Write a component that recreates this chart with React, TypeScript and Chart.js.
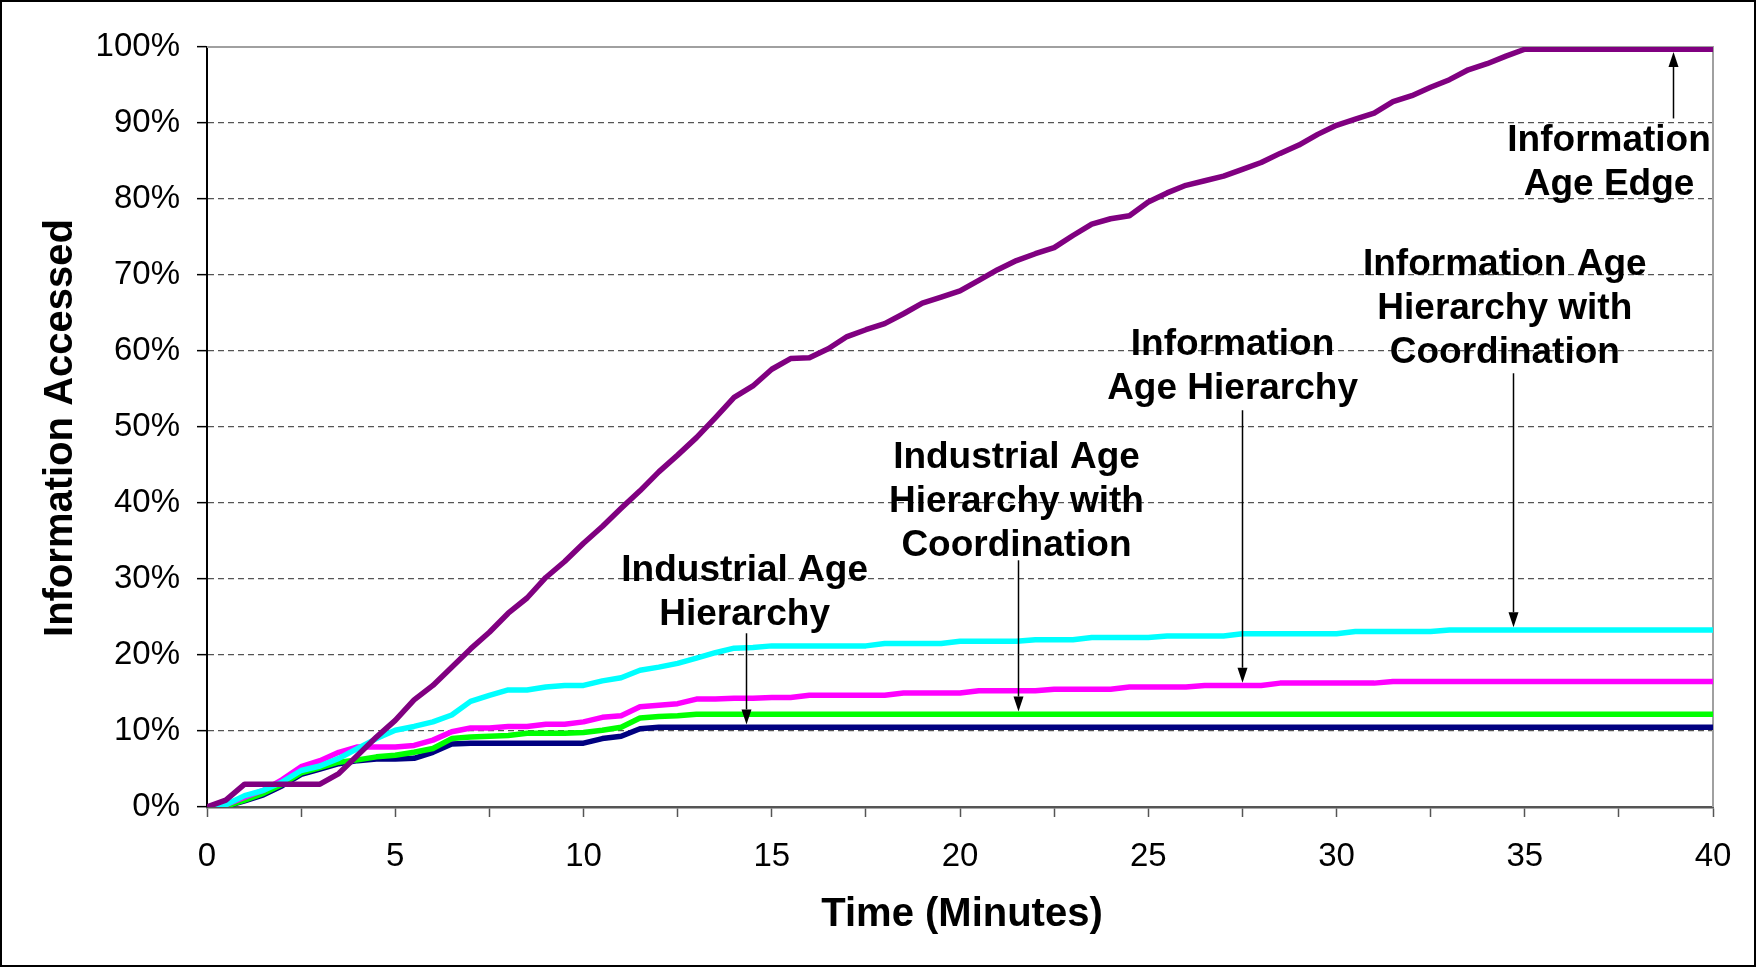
import React, { useEffect, useRef } from "react";
import { Chart, registerables } from "chart.js";

Chart.register(...registerables);

// Sample times (minutes), every half minute from 0 to 40
const minutes = [
  0, 0.5, 1, 1.5, 2, 2.5, 3, 3.5, 4, 4.5, 5, 5.5, 6, 6.5, 7, 7.5, 8, 8.5, 9, 9.5,
  10, 10.5, 11, 11.5, 12, 12.5, 13, 13.5, 14, 14.5, 15, 15.5, 16, 16.5, 17, 17.5, 18, 18.5, 19, 19.5,
  20, 20.5, 21, 21.5, 22, 22.5, 23, 23.5, 24, 24.5, 25, 25.5, 26, 26.5, 27, 27.5, 28, 28.5, 29, 29.5,
  30, 30.5, 31, 31.5, 32, 32.5, 33, 33.5, 34, 34.5, 35, 35.5, 36, 36.5, 37, 37.5, 38, 38.5, 39, 39.5, 40,
];

// Information accessed (%), one value per sample time
const informationAgeEdge = [
  0, 0.9, 3.0, 3.0, 3.0, 3.0, 3.0, 4.4, 6.8, 9.2, 11.4, 14.1, 16.0, 18.4, 20.8, 23.0, 25.5, 27.5, 30.2, 32.3,
  34.7, 36.9, 39.3, 41.6, 44.1, 46.3, 48.6, 51.2, 53.9, 55.4, 57.6, 59.0, 59.1, 60.3, 61.9, 62.8, 63.6, 64.9, 66.3, 67.1,
  67.9, 69.3, 70.7, 71.9, 72.8, 73.6, 75.2, 76.7, 77.4, 77.8, 79.6, 80.8, 81.8, 82.4, 83.0, 83.9, 84.8, 86.0, 87.1, 88.5,
  89.7, 90.5, 91.3, 92.8, 93.6, 94.7, 95.7, 97.0, 97.8, 98.8, 99.7, 99.7, 99.7, 99.7, 99.7, 99.7, 99.7, 99.7, 99.7, 99.7, 99.7,
];

const infoAgeHierarchyCoord = [
  0, 0.3, 1.5, 2.2, 3.3, 4.8, 5.4, 6.4, 7.7, 9.0, 10.1, 10.6, 11.2, 12.1, 13.9, 14.7, 15.4, 15.4, 15.8, 16.0,
  16.0, 16.6, 17.0, 18.0, 18.4, 18.9, 19.6, 20.3, 20.9, 21.0, 21.2, 21.2, 21.2, 21.2, 21.2, 21.2, 21.5, 21.5, 21.5, 21.5,
  21.8, 21.8, 21.8, 21.8, 22.0, 22.0, 22.0, 22.3, 22.3, 22.3, 22.3, 22.5, 22.5, 22.5, 22.5, 22.8, 22.8, 22.8, 22.8, 22.8,
  22.8, 23.1, 23.1, 23.1, 23.1, 23.1, 23.3, 23.3, 23.3, 23.3, 23.3, 23.3, 23.3, 23.3, 23.3, 23.3, 23.3, 23.3, 23.3, 23.3, 23.3,
];

const infoAgeHierarchy = [
  0, 0.3, 1.3, 2.2, 3.6, 5.3, 6.1, 7.2, 7.9, 7.9, 7.9, 8.1, 8.8, 9.9, 10.4, 10.4, 10.6, 10.6, 10.9, 10.9,
  11.2, 11.8, 12.0, 13.2, 13.4, 13.6, 14.2, 14.2, 14.3, 14.3, 14.4, 14.4, 14.7, 14.7, 14.7, 14.7, 14.7, 15.0, 15.0, 15.0,
  15.0, 15.3, 15.3, 15.3, 15.3, 15.5, 15.5, 15.5, 15.5, 15.8, 15.8, 15.8, 15.8, 16.0, 16.0, 16.0, 16.0, 16.3, 16.3, 16.3,
  16.3, 16.3, 16.3, 16.5, 16.5, 16.5, 16.5, 16.5, 16.5, 16.5, 16.5, 16.5, 16.5, 16.5, 16.5, 16.5, 16.5, 16.5, 16.5, 16.5, 16.5,
];

const industrialAgeHierarchyCoord = [
  0, 0.1, 0.9, 1.8, 3.0, 4.5, 5.2, 5.9, 6.2, 6.6, 6.8, 7.2, 7.7, 9.0, 9.2, 9.3, 9.4, 9.7, 9.7, 9.7,
  9.8, 10.1, 10.5, 11.7, 11.9, 12.0, 12.2, 12.2, 12.2, 12.2, 12.2, 12.2, 12.2, 12.2, 12.2, 12.2, 12.2, 12.2, 12.2, 12.2,
  12.2, 12.2, 12.2, 12.2, 12.2, 12.2, 12.2, 12.2, 12.2, 12.2, 12.2, 12.2, 12.2, 12.2, 12.2, 12.2, 12.2, 12.2, 12.2, 12.2,
  12.2, 12.2, 12.2, 12.2, 12.2, 12.2, 12.2, 12.2, 12.2, 12.2, 12.2, 12.2, 12.2, 12.2, 12.2, 12.2, 12.2, 12.2, 12.2, 12.2, 12.2,
];

const industrialAgeHierarchy = [
  0, 0.1, 0.8, 1.6, 2.8, 4.3, 5.0, 5.7, 6.1, 6.3, 6.3, 6.4, 7.2, 8.3, 8.4, 8.4, 8.4, 8.4, 8.4, 8.4,
  8.4, 9.0, 9.3, 10.3, 10.5, 10.5, 10.5, 10.5, 10.5, 10.5, 10.5, 10.5, 10.5, 10.5, 10.5, 10.5, 10.5, 10.5, 10.5, 10.5,
  10.5, 10.5, 10.5, 10.5, 10.5, 10.5, 10.5, 10.5, 10.5, 10.5, 10.5, 10.5, 10.5, 10.5, 10.5, 10.5, 10.5, 10.5, 10.5, 10.5,
  10.5, 10.5, 10.5, 10.5, 10.5, 10.5, 10.5, 10.5, 10.5, 10.5, 10.5, 10.5, 10.5, 10.5, 10.5, 10.5, 10.5, 10.5, 10.5, 10.5, 10.5,
];

// Series, top-most drawn first in this list
const series = [
  { name: "Information Age Edge", values: informationAgeEdge, color: "#800080" },
  { name: "Information Age Hierarchy with Coordination", values: infoAgeHierarchyCoord, color: "#00FFFF" },
  { name: "Information Age Hierarchy", values: infoAgeHierarchy, color: "#FF00FF" },
  { name: "Industrial Age Hierarchy with Coordination", values: industrialAgeHierarchyCoord, color: "#00FF00" },
  { name: "Industrial Age Hierarchy", values: industrialAgeHierarchy, color: "#000080" },
];

const xTickValues = [0, 5, 10, 15, 20, 25, 30, 35, 40];
const yTickValues = [0, 10, 20, 30, 40, 50, 60, 70, 80, 90, 100];

// Labelled arrows: text anchor and arrow shaft in data units, arrow ends on a series line
const callouts = [
  { lines: ["Information", "Age Edge"], textX: 37.24, textY: 86.3, arrowX: 38.93, arrowFrom: 90.6, series: 0 },
  { lines: ["Information Age", "Hierarchy with", "Coordination"], textX: 34.47, textY: 69.96, arrowX: 34.7, arrowFrom: 57.07, series: 1 },
  { lines: ["Information", "Age Hierarchy"], textX: 27.24, textY: 59.43, arrowX: 27.48, arrowFrom: 52.2, series: 2 },
  { lines: ["Industrial Age", "Hierarchy with", "Coordination"], textX: 21.5, textY: 44.57, arrowX: 21.53, arrowFrom: 32.46, series: 3 },
  { lines: ["Industrial Age", "Hierarchy"], textX: 14.28, textY: 29.7, arrowX: 14.31, arrowFrom: 22.86, series: 4 },
];

const FONT = '"Liberation Sans", Arial, Helvetica, sans-serif';
const LINE_W = 5.5;
const CALLOUT_LINE_GAP = 44;

function valueAt(values: number[], t: number): number {
  for (let i = 0; i < minutes.length - 1; i++) {
    if (t >= minutes[i] && t <= minutes[i + 1]) {
      const f = (t - minutes[i]) / (minutes[i + 1] - minutes[i]);
      return values[i] + (values[i + 1] - values[i]) * f;
    }
  }
  return values[values.length - 1];
}

const framePlugin = {
  id: "frame",
  beforeDatasetsDraw(chart: any) {
    const { ctx, chartArea } = chart;
    ctx.save();
    ctx.strokeStyle = "#a0a0a0";
    ctx.lineWidth = 2;
    ctx.beginPath();
    ctx.moveTo(chartArea.left, chartArea.top);
    ctx.lineTo(chartArea.right, chartArea.top);
    ctx.lineTo(chartArea.right, chartArea.bottom);
    ctx.stroke();
    ctx.restore();
  },
  afterDraw(chart: any) {
    const { ctx, width, height, chartArea } = chart;
    ctx.save();
    ctx.strokeStyle = "#000";
    ctx.lineWidth = 2;
    ctx.strokeRect(1, 1, width - 2, height - 2);

    ctx.fillStyle = "#000";
    ctx.font = `bold 40px ${FONT}`;
    ctx.textAlign = "center";
    ctx.textBaseline = "alphabetic";
    ctx.fillText("Time (Minutes)", (chartArea.left + chartArea.right) / 2 + 2, 926);

    ctx.translate(72, 428);
    ctx.rotate(-Math.PI / 2);
    ctx.fillText("Information Accessed", 0, 0);
    ctx.restore();
  },
};

const calloutPlugin = {
  id: "callouts",
  afterDatasetsDraw(chart: any) {
    const { ctx } = chart;
    const x = chart.scales.x;
    const y = chart.scales.y;
    ctx.save();
    ctx.fillStyle = "#000";
    ctx.strokeStyle = "#000";
    ctx.font = `bold 37px ${FONT}`;
    ctx.textAlign = "center";
    ctx.textBaseline = "alphabetic";
    for (const c of callouts) {
      const tx = x.getPixelForValue(c.textX);
      const ty = y.getPixelForValue(c.textY);
      c.lines.forEach((ln, i) => ctx.fillText(ln, tx, ty + i * CALLOUT_LINE_GAP));

      const ax = Math.round(x.getPixelForValue(c.arrowX)) + 0.5;
      const start = y.getPixelForValue(c.arrowFrom);
      const target = y.getPixelForValue(valueAt(series[c.series].values, c.arrowX));
      const up = target < start;
      const tip = up ? target + LINE_W / 2 : target - LINE_W / 2;
      const headLen = 15;
      const headHalf = 5;
      const base = up ? tip + headLen : tip - headLen;
      ctx.lineWidth = 1.5;
      ctx.beginPath();
      ctx.moveTo(ax, start);
      ctx.lineTo(ax, base);
      ctx.stroke();
      ctx.beginPath();
      ctx.moveTo(ax, tip);
      ctx.lineTo(ax - headHalf, base);
      ctx.lineTo(ax + headHalf, base);
      ctx.closePath();
      ctx.fill();
    }
    ctx.restore();
  },
};

export default function App() {
  const canvasRef = useRef<HTMLCanvasElement | null>(null);

  useEffect(() => {
    document.body.style.margin = "0";
    const canvas = canvasRef.current;
    if (!canvas) return;

    const chart = new Chart(canvas, {
      type: "line",
      data: {
        datasets: series.map((s) => ({
          label: s.name,
          data: s.values.map((v, i) => ({ x: minutes[i], y: v })),
          borderColor: s.color,
          backgroundColor: s.color,
          borderWidth: LINE_W,
          pointRadius: 0,
          tension: 0,
          fill: false,
          borderJoinStyle: "round" as const,
          borderCapStyle: "butt" as const,
        })),
      },
      options: {
        responsive: false,
        animation: false,
        events: [],
        layout: { padding: { left: 0, top: 47, right: 43, bottom: 0 } },
        plugins: {
          legend: { display: false },
          tooltip: { enabled: false },
          title: { display: false },
        },
        scales: {
          x: {
            type: "linear",
            min: 0,
            max: 40,
            afterFit: (scale: any) => {
              scale.height = 160;
            },
            afterBuildTicks: (scale: any) => {
              const t: { value: number }[] = [];
              for (let i = 0; i <= 16; i++) t.push({ value: i * 2.5 });
              scale.ticks = t;
            },
            ticks: {
              autoSkip: false,
              maxRotation: 0,
              padding: 20,
              color: "#000",
              font: { family: FONT, size: 33 },
              callback: (v: any) => (xTickValues.includes(Number(v)) ? String(v) : ""),
            },
            grid: {
              drawOnChartArea: false,
              drawTicks: true,
              tickLength: 10,
              tickColor: "#555",
              tickWidth: 1.5,
            },
            border: { display: true, color: "#555", width: 2.5 },
          },
          y: {
            type: "linear",
            min: 0,
            max: 100,
            afterFit: (scale: any) => {
              scale.width = 207;
            },
            afterBuildTicks: (scale: any) => {
              scale.ticks = yTickValues.map((v) => ({ value: v }));
            },
            ticks: {
              padding: 17,
              color: "#000",
              font: { family: FONT, size: 33 },
              callback: (v: any) => `${v}%`,
            },
            grid: {
              drawOnChartArea: true,
              drawTicks: true,
              tickLength: 10,
              tickColor: "#000",
              tickWidth: 1.5,
              tickBorderDash: [],
              lineWidth: 1.3,
              color: (ctx: any) =>
                ctx.tick && (ctx.tick.value === 0 || ctx.tick.value === 100) ? "rgba(0,0,0,0)" : "#555",
            },
            border: { display: true, color: "#000", width: 2, dash: [6, 4] },
          },
        },
      },
      plugins: [framePlugin, calloutPlugin],
    });

    return () => chart.destroy();
  }, []);

  return (
    <div style={{ position: "absolute", left: 0, top: 0, width: 1756, height: 967, background: "#fff" }}>
      <canvas ref={canvasRef} width={1756} height={967} style={{ display: "block" }} />
    </div>
  );
}
